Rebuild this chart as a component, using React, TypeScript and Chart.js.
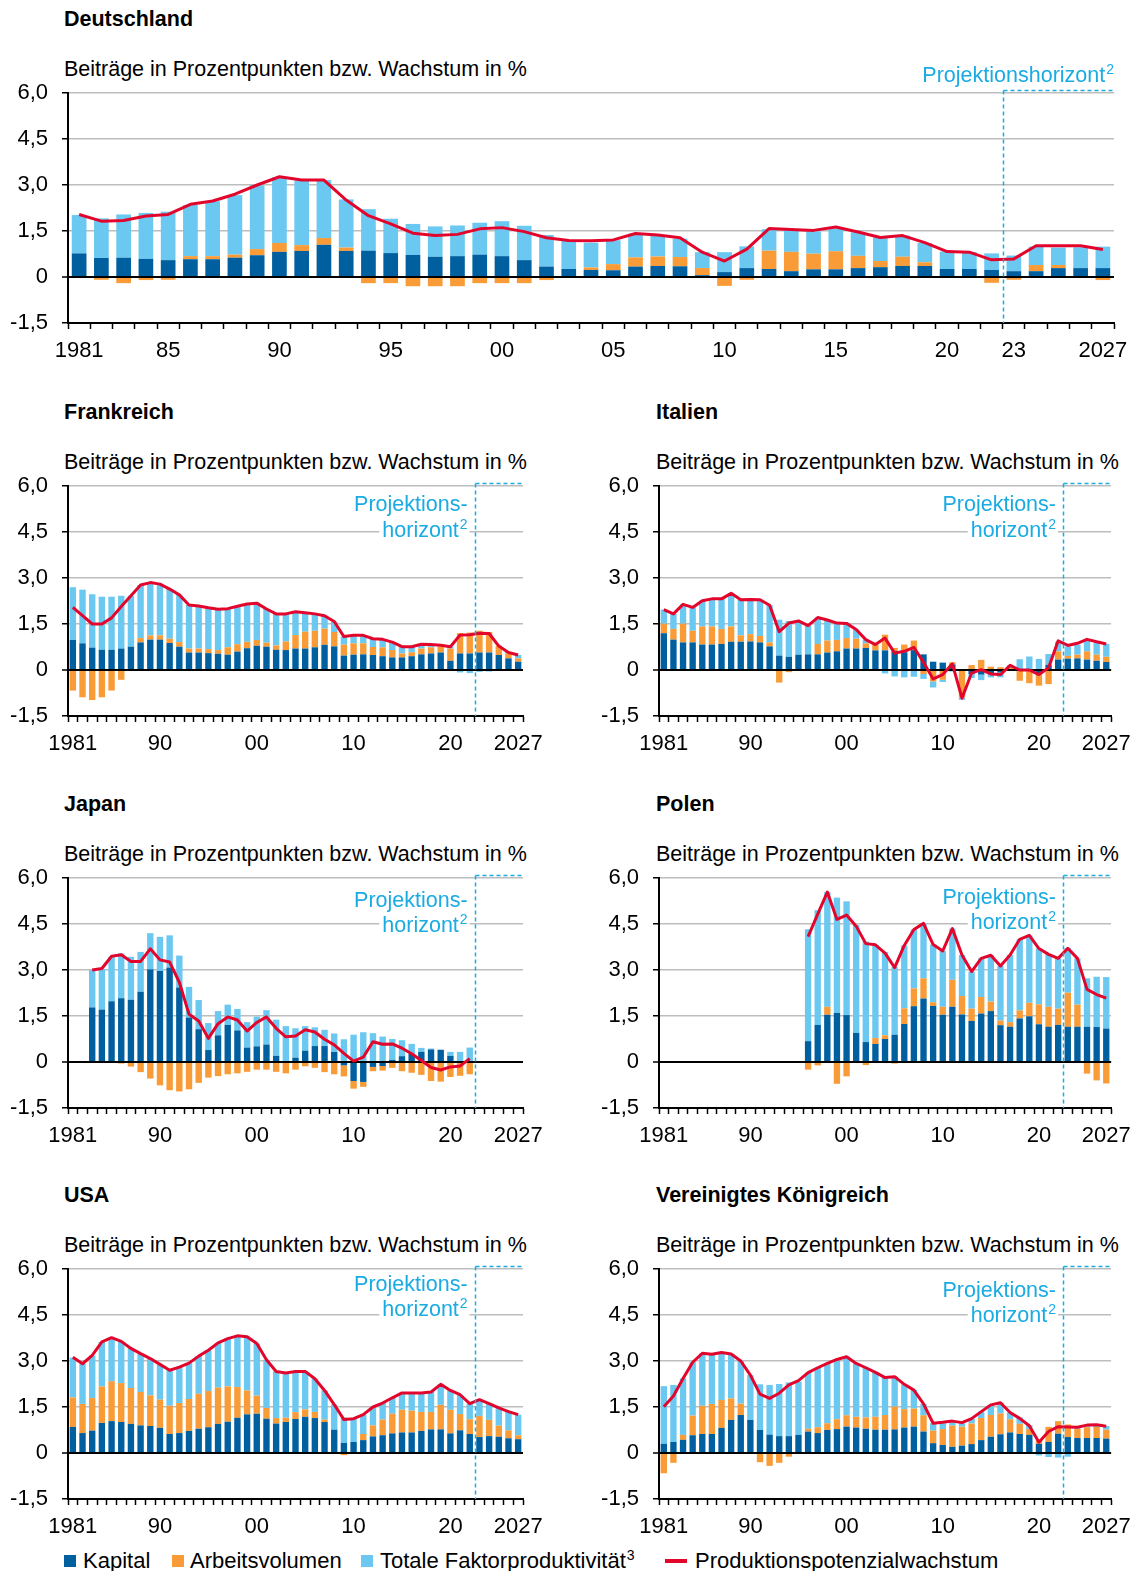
import React, { useEffect, useRef } from 'react';
import { Chart, registerables } from 'chart.js';

Chart.register(...registerables);

const FONT = "'Liberation Sans', Arial, Helvetica, sans-serif";
const FS = 21.5;
const SUP_FS = 14;
const LEGEND_FS = 22;
const TICK_FS = 22;

const YEARS = [
  1981, 1982, 1983, 1984, 1985, 1986, 1987, 1988, 1989, 1990,
  1991, 1992, 1993, 1994, 1995, 1996, 1997, 1998, 1999, 2000,
  2001, 2002, 2003, 2004, 2005, 2006, 2007, 2008, 2009, 2010,
  2011, 2012, 2013, 2014, 2015, 2016, 2017, 2018, 2019, 2020,
  2021, 2022, 2023, 2024, 2025, 2026, 2027,
];
const PROJECTION_START = 2023;

const Y_TICK_VALUES = [-1.5, 0, 1.5, 3, 4.5, 6];
const Y_TICK_LABELS = ['-1,5', '0', '1,5', '3,0', '4,5', '6,0'];

const DE_TICK_YEARS = [1981, 1985, 1990, 1995, 2000, 2005, 2010, 2015, 2020, 2023, 2027];
const DE_TICK_LABELS = ['1981', '85', '90', '95', '00', '05', '10', '15', '20', '23', '2027'];
const SMALL_TICK_YEARS = [1981, 1990, 2000, 2010, 2020, 2027];
const SMALL_TICK_LABELS = ['1981', '90', '00', '10', '20', '2027'];

const SERIES_NAMES = ['Kapital', 'Arbeitsvolumen', 'Totale Faktorproduktivität', 'Produktionspotenzialwachstum'];
const SERIES_SUPS = ['', '', '3', ''];
const SUBTITLE = 'Beiträge in Prozentpunkten bzw. Wachstum in %';

const COLOR_KAPITAL = '#005f9f';
const COLOR_ARBEIT = '#f99b36';
const COLOR_TFP = '#6ac8f1';
const COLOR_POT = '#e3062c';
const COLOR_PROJ = '#1aabe3';
const COLOR_GRID = '#bdbdbd';

type V = number | null;

// ---------- Deutschland ----------
const DE_KAPITAL: V[] = [
  0.77, 0.62, 0.63, 0.59, 0.55, 0.58, 0.58, 0.63, 0.71, 0.82,
  0.85, 1.05, 0.85, 0.86, 0.78, 0.72, 0.66, 0.68, 0.73, 0.68,
  0.55, 0.34, 0.26, 0.23, 0.22, 0.34, 0.36, 0.35, 0.06, 0.16,
  0.29, 0.26, 0.19, 0.25, 0.25, 0.29, 0.32, 0.36, 0.36, 0.26,
  0.26, 0.23, 0.19, 0.19, 0.29, 0.29, 0.29,
];
const DE_ARBEIT: V[] = [
  0, -0.09, -0.2, -0.1, -0.09, 0.1, 0.1, 0.1, 0.2, 0.29,
  0.19, 0.22, 0.11, -0.2, -0.2, -0.3, -0.3, -0.3, -0.2, -0.2,
  -0.2, -0.1, 0, 0.08, 0.2, 0.3, 0.31, 0.3, 0.23, -0.29,
  -0.09, 0.6, 0.63, 0.51, 0.59, 0.4, 0.2, 0.3, 0.12, 0,
  0, -0.19, -0.09, 0.2, 0.1, 0, -0.1,
];
const DE_TFP: V[] = [
  1.25, 1.29, 1.41, 1.5, 1.58, 1.67, 1.79, 1.94, 2.08, 2.14,
  2.11, 1.89, 1.57, 1.35, 1.12, 1.01, 0.99, 1.0, 1.04, 1.14,
  1.12, 1.03, 0.93, 0.81, 0.78, 0.77, 0.68, 0.6, 0.52, 0.65,
  0.71, 0.7, 0.72, 0.73, 0.74, 0.77, 0.77, 0.69, 0.63, 0.57,
  0.55, 0.54, 0.51, 0.6, 0.57, 0.68, 0.7,
];
const DE_POTENZIAL: V[] = [
  2.04, 1.82, 1.84, 1.99, 2.04, 2.37, 2.48, 2.7, 3.0, 3.27,
  3.16, 3.16, 2.51, 2.0, 1.73, 1.43, 1.35, 1.39, 1.57, 1.61,
  1.48, 1.28, 1.19, 1.18, 1.21, 1.42, 1.37, 1.28, 0.81, 0.52,
  0.91, 1.58, 1.55, 1.52, 1.63, 1.47, 1.29, 1.35, 1.12, 0.83,
  0.81, 0.56, 0.59, 1.02, 1.02, 1.02, 0.9,
];

// ---------- Frankreich ----------
const FR_KAPITAL: V[] = [
  0.98, 0.87, 0.73, 0.66, 0.66, 0.7, 0.76, 0.9, 0.99, 0.99,
  0.88, 0.76, 0.57, 0.57, 0.55, 0.53, 0.5, 0.6, 0.71, 0.79,
  0.76, 0.66, 0.65, 0.7, 0.7, 0.74, 0.82, 0.77, 0.47, 0.5,
  0.51, 0.49, 0.45, 0.41, 0.41, 0.45, 0.51, 0.54, 0.57, 0.3,
  0.54, 0.54, 0.57, 0.57, 0.49, 0.38, 0.27,
];
const FR_ARBEIT: V[] = [
  -0.67, -0.89, -0.98, -0.89, -0.67, -0.32, 0, 0.14, 0.14, 0.14,
  0.14, 0.15, 0.13, 0.13, 0.13, 0.12, 0.24, 0.24, 0.21, 0.19,
  0.13, 0.14, 0.28, 0.44, 0.55, 0.54, 0.53, 0.47, 0.36, 0.37,
  0.36, 0.26, 0.29, 0.24, 0.13, 0.13, 0.19, 0.2, 0.2, 0.4,
  0.66, 0.68, 0.71, 0.67, 0.3, 0.16, 0.11,
];
const FR_TFP: V[] = [
  1.72, 1.75, 1.74, 1.73, 1.73, 1.72, 1.66, 1.73, 1.72, 1.67,
  1.62, 1.54, 1.42, 1.39, 1.35, 1.33, 1.26, 1.24, 1.23, 1.2,
  1.1, 1.03, 0.9, 0.76, 0.62, 0.55, 0.42, 0.34, 0.26, 0.26,
  0.26, 0.27, 0.26, 0.26, 0.22, 0.18, 0.1, 0.07, 0.06, 0.06,
  -0.08, -0.1, -0.06, -0.05, -0.02, 0.05, 0.11,
];
const FR_POTENZIAL: V[] = [
  2.04, 1.77, 1.5, 1.5, 1.7, 2.07, 2.42, 2.77, 2.85, 2.8,
  2.64, 2.45, 2.12, 2.09, 2.03, 1.98, 2.0, 2.08, 2.15, 2.18,
  1.99, 1.83, 1.83, 1.9, 1.87, 1.83, 1.77, 1.58, 1.09, 1.13,
  1.13, 1.02, 1.0, 0.91, 0.76, 0.76, 0.84, 0.83, 0.81, 0.76,
  1.14, 1.15, 1.2, 1.19, 0.78, 0.57, 0.49,
];

// ---------- Italien ----------
const IT_KAPITAL: V[] = [
  1.2, 0.99, 0.9, 0.9, 0.83, 0.83, 0.85, 0.92, 0.92, 0.93,
  0.9, 0.77, 0.47, 0.43, 0.5, 0.51, 0.51, 0.57, 0.61, 0.7,
  0.7, 0.72, 0.64, 0.64, 0.62, 0.58, 0.65, 0.51, 0.27, 0.24,
  0.18, 0.03, -0.13, -0.15, -0.1, -0.08, 0.02, 0.01, 0.01, -0.1,
  0.17, 0.34, 0.37, 0.38, 0.34, 0.3, 0.26,
];
const IT_ARBEIT: V[] = [
  0.31, 0.35, 0.61, 0.38, 0.59, 0.59, 0.49, 0.5, 0.21, 0.24,
  0.21, 0.13, -0.41, -0.07, 0, 0, 0.34, 0.39, 0.37, 0.34,
  0.32, 0.15, 0.19, 0.51, 0.1, 0.25, 0.31, -0.13, -0.37, -0.32,
  0.07, -0.9, 0.16, 0.33, 0.11, 0.09, 0.05, -0.35, -0.43, -0.41,
  -0.46, 0.27, 0.09, 0.12, 0.27, 0.2, 0.17,
];
const IT_TFP: V[] = [
  0.46, 0.49, 0.63, 0.76, 0.84, 0.9, 0.98, 1.08, 1.16, 1.13,
  1.18, 1.21, 1.17, 1.17, 1.1, 0.94, 0.86, 0.67, 0.55, 0.48,
  0.3, 0.12, 0, -0.11, -0.21, -0.24, -0.22, -0.16, -0.2, -0.07,
  -0.05, -0.07, -0.13, -0.18, -0.14, -0.16, 0.08, 0.34, 0.43, 0.36,
  0.35, 0.31, 0.3, 0.33, 0.4, 0.39, 0.42,
];
const IT_POTENZIAL: V[] = [
  1.97, 1.83, 2.14, 2.04, 2.26, 2.32, 2.32, 2.5, 2.29, 2.3,
  2.29, 2.11, 1.25, 1.53, 1.6, 1.45, 1.71, 1.63, 1.53, 1.52,
  1.32, 0.99, 0.83, 1.04, 0.55, 0.61, 0.74, 0.25, -0.29, -0.15,
  0.2, -0.92, -0.1, 0.01, -0.13, -0.15, 0.15, 0.0, 0.0, -0.15,
  0.07, 0.95, 0.8, 0.87, 1.0, 0.92, 0.85,
];

// ---------- Japan ----------
const JP_KAPITAL: V[] = [
  null, null, 1.78, 1.71, 1.98, 2.08, 2.03, 2.29, 3.02, 2.97,
  3.08, 2.43, 1.45, 1.07, 0.39, 0.87, 1.21, 1.03, 0.47, 0.51,
  0.57, 0.2, 0.02, 0.14, 0.37, 0.52, 0.52, 0.33, -0.11, -0.62,
  -0.65, -0.16, -0.13, 0.07, 0.19, 0.27, 0.33, 0.41, 0.4, 0.2,
  0, 0, null, null, null, null, null,
];
const JP_ARBEIT: V[] = [
  null, null, 0, 0, 0, -0.05, -0.15, -0.33, -0.54, -0.76,
  -0.92, -0.96, -0.89, -0.68, -0.51, -0.46, -0.4, -0.37, -0.32, -0.25,
  -0.25, -0.32, -0.37, -0.25, -0.14, -0.19, -0.33, -0.4, -0.36, -0.25,
  -0.16, -0.14, -0.15, -0.19, -0.3, -0.35, -0.42, -0.62, -0.64, -0.49,
  -0.45, -0.4, null, null, null, null, null,
];
const JP_TFP: V[] = [
  null, null, 1.22, 1.32, 1.45, 1.46, 1.4, 1.3, 1.18, 1.11,
  1.05, 1.04, 1.0, 0.95, 0.88, 0.79, 0.66, 0.7, 0.83, 0.97,
  1.12, 1.18, 1.15, 0.96, 0.8, 0.61, 0.53, 0.6, 0.74, 0.89,
  0.97, 0.94, 0.83, 0.68, 0.52, 0.32, 0.13, 0.03, 0, 0.13,
  0.33, 0.47, null, null, null, null, null,
];
const JP_POTENZIAL: V[] = [
  null, null, 3.0, 3.05, 3.45, 3.5, 3.28, 3.28, 3.69, 3.33,
  3.26, 2.6, 1.56, 1.34, 0.77, 1.25, 1.47, 1.37, 1.01, 1.29,
  1.47, 1.1, 0.82, 0.85, 1.05, 0.98, 0.74, 0.56, 0.28, 0.03,
  0.16, 0.66, 0.58, 0.59, 0.45, 0.27, 0.05, -0.18, -0.26, -0.16,
  -0.13, 0.11, null, null, null, null, null,
];

// ---------- Polen ----------
const PL_KAPITAL: V[] = [
  null, null, null, null, null, null, null, null, null, null,
  null, null, null, null, null, 0.68, 1.21, 1.54, 1.6, 1.53,
  0.95, 0.65, 0.59, 0.75, 0.89, 1.24, 1.82, 2.07, 1.83, 1.54,
  1.8, 1.55, 1.34, 1.58, 1.66, 1.2, 1.15, 1.42, 1.49, 1.23,
  1.15, 1.21, 1.15, 1.15, 1.15, 1.14, 1.09,
];
const PL_ARBEIT: V[] = [
  null, null, null, null, null, null, null, null, null, null,
  null, null, null, null, null, -0.25, -0.11, 0.26, -0.71, -0.47,
  0, -0.1, 0.19, 0.12, -0.05, 0.51, 0.58, 0.66, 0.12, 0.26,
  0.88, 0.6, 0.4, 0.54, 0.31, 0.15, 0.15, 0.26, 0.44, 0.65,
  0.65, 0.53, 1.11, 0.72, -0.38, -0.6, -0.7,
];
const PL_TFP: V[] = [
  null, null, null, null, null, null, null, null, null, null,
  null, null, null, null, null, 3.65, 3.74, 3.74, 3.76, 3.71,
  3.52, 3.28, 3.04, 2.72, 2.21, 2.05, 1.92, 1.79, 1.88, 1.82,
  1.67, 1.34, 1.21, 1.26, 1.51, 1.78, 2.19, 2.32, 2.2, 1.82,
  1.71, 1.64, 1.45, 1.51, 1.58, 1.64, 1.68,
];
const PL_POTENZIAL: V[] = [
  null, null, null, null, null, null, null, null, null, null,
  null, null, null, null, null, 4.09, 4.82, 5.54, 4.65, 4.79,
  4.43, 3.86, 3.82, 3.55, 3.08, 3.8, 4.32, 4.52, 3.83, 3.62,
  4.35, 3.49, 2.95, 3.38, 3.48, 3.13, 3.49, 4.0, 4.13, 3.7,
  3.51, 3.38, 3.71, 3.38, 2.37, 2.2, 2.08,
];

// ---------- USA ----------
const US_KAPITAL: V[] = [
  0.85, 0.65, 0.73, 0.98, 1.04, 1.01, 0.95, 0.9, 0.88, 0.82,
  0.62, 0.65, 0.72, 0.79, 0.84, 0.95, 1.02, 1.15, 1.26, 1.28,
  1.12, 0.96, 1.01, 1.11, 1.18, 1.14, 1.01, 0.76, 0.33, 0.36,
  0.42, 0.54, 0.58, 0.64, 0.67, 0.67, 0.72, 0.77, 0.77, 0.64,
  0.74, 0.62, 0.52, 0.55, 0.53, 0.48, 0.45,
];
const US_ARBEIT: V[] = [
  0.96, 0.95, 1.06, 1.19, 1.3, 1.27, 1.17, 1.09, 1.0, 0.92,
  0.92, 0.98, 1.04, 1.14, 1.18, 1.18, 1.15, 1.0, 0.78, 0.59,
  0.35, 0.18, 0.14, 0.22, 0.24, 0.2, 0.08, 0, -0.07, 0,
  0.2, 0.36, 0.51, 0.64, 0.74, 0.71, 0.62, 0.57, 0.8, 0.77,
  0.53, 0.48, 0.69, 0.53, 0.36, 0.26, 0.13,
];
const US_TFP: V[] = [
  1.3, 1.31, 1.39, 1.45, 1.42, 1.36, 1.29, 1.25, 1.2, 1.15,
  1.16, 1.17, 1.17, 1.23, 1.33, 1.46, 1.56, 1.67, 1.75, 1.7,
  1.57, 1.52, 1.46, 1.33, 1.24, 1.08, 0.95, 0.82, 0.83, 0.76,
  0.63, 0.6, 0.54, 0.52, 0.55, 0.58, 0.62, 0.65, 0.67, 0.63,
  0.63, 0.51, 0.53, 0.53, 0.58, 0.61, 0.67,
];
const US_POTENZIAL: V[] = [
  3.12, 2.91, 3.18, 3.62, 3.76, 3.64, 3.41, 3.24, 3.08, 2.89,
  2.7, 2.8, 2.93, 3.16, 3.35, 3.59, 3.73, 3.82, 3.79, 3.57,
  3.04, 2.66, 2.61, 2.66, 2.66, 2.42, 2.04, 1.58, 1.09, 1.12,
  1.25, 1.5, 1.63, 1.8, 1.96, 1.96, 1.96, 1.99, 2.24, 2.04,
  1.9, 1.61, 1.74, 1.61, 1.47, 1.35, 1.25,
];

// ---------- Vereinigtes Königreich ----------
const UK_KAPITAL: V[] = [
  0.3, 0.36, 0.43, 0.58, 0.62, 0.62, 0.82, 1.08, 1.24, 1.08,
  0.75, 0.6, 0.55, 0.55, 0.59, 0.7, 0.65, 0.75, 0.78, 0.86,
  0.83, 0.79, 0.76, 0.76, 0.77, 0.83, 0.86, 0.7, 0.32, 0.26,
  0.2, 0.24, 0.29, 0.42, 0.53, 0.61, 0.67, 0.62, 0.59, 0.3,
  0.36, 0.63, 0.52, 0.49, 0.49, 0.49, 0.47,
];
const UK_ARBEIT: V[] = [
  -0.66, -0.32, 0.16, 0.64, 0.92, 0.98, 0.91, 0.7, 0.37, 0,
  -0.3, -0.42, -0.32, -0.12, 0, 0.09, 0.19, 0.22, 0.32, 0.37,
  0.35, 0.37, 0.42, 0.48, 0.74, 0.6, 0.59, 0.53, 0.41, 0.52,
  0.69, 0.62, 0.67, 0.72, 0.71, 0.68, 0.43, 0.33, 0.19, 0.1,
  0.49, 0.41, 0.41, 0.29, 0.35, 0.36, 0.29,
];
const UK_TFP: V[] = [
  1.88, 1.86, 1.84, 1.74, 1.71, 1.62, 1.55, 1.45, 1.39, 1.46,
  1.49, 1.62, 1.7, 1.75, 1.74, 1.83, 1.94, 1.95, 1.95, 1.91,
  1.74, 1.62, 1.45, 1.22, 0.98, 0.81, 0.6, 0.37, 0.24, 0.19,
  0.11, 0.11, 0.16, 0.21, 0.33, 0.35, 0.22, 0.21, 0.13, -0.08,
  -0.13, -0.15, -0.12, 0.1, 0.07, 0.08, 0.12,
];
const UK_POTENZIAL: V[] = [
  1.51, 1.86, 2.43, 2.96, 3.25, 3.22, 3.28, 3.23, 3.0, 2.54,
  1.92, 1.78, 1.95, 2.22, 2.36, 2.62, 2.78, 2.92, 3.05, 3.14,
  2.92, 2.78, 2.63, 2.46, 2.49, 2.24, 2.05, 1.6, 0.97, 1.0,
  1.04, 0.99, 1.12, 1.35, 1.57, 1.64, 1.32, 1.13, 0.89, 0.35,
  0.7, 0.86, 0.85, 0.84, 0.91, 0.92, 0.87,
];

type Panel = {
  key: string;
  title: string;
  kap: V[];
  arb: V[];
  tfp: V[];
  pot: V[];
  tickYears: number[];
  tickLabels: string[];
  left: number;
  width: number;
  axisW: number;
  padRight: number;
  chartTop: number;
  textX: number;
  wide: boolean;
  projLines: string[];
  projSups: string[];
  projOffsets: number[];
};

const LEFT_COL = { left: 0, width: 570, axisW: 68, padRight: 47, textX: 64 };
const RIGHT_COL = { left: 591, width: 549, axisW: 68, padRight: 25, textX: 656 };
const PROJ_LINES = ['Projektions-', 'horizont'];
const PROJ_SUPS = ['', '2'];

const PANELS: Panel[] = [
  { key: 'de', title: 'Deutschland', kap: DE_KAPITAL, arb: DE_ARBEIT, tfp: DE_TFP, pot: DE_POTENZIAL,
    tickYears: DE_TICK_YEARS, tickLabels: DE_TICK_LABELS, left: 0, width: 1140, axisW: 68, padRight: 26,
    chartTop: 93, textX: 64, wide: true, projLines: ['Projektionshorizont'], projSups: ['2'], projOffsets: [-17] },
  { key: 'fr', title: 'Frankreich', kap: FR_KAPITAL, arb: FR_ARBEIT, tfp: FR_TFP, pot: FR_POTENZIAL,
    tickYears: SMALL_TICK_YEARS, tickLabels: SMALL_TICK_LABELS, ...LEFT_COL,
    chartTop: 486, wide: false, projLines: PROJ_LINES, projSups: PROJ_SUPS, projOffsets: [19, 45] },
  { key: 'it', title: 'Italien', kap: IT_KAPITAL, arb: IT_ARBEIT, tfp: IT_TFP, pot: IT_POTENZIAL,
    tickYears: SMALL_TICK_YEARS, tickLabels: SMALL_TICK_LABELS, ...RIGHT_COL,
    chartTop: 486, wide: false, projLines: PROJ_LINES, projSups: PROJ_SUPS, projOffsets: [19, 45] },
  { key: 'jp', title: 'Japan', kap: JP_KAPITAL, arb: JP_ARBEIT, tfp: JP_TFP, pot: JP_POTENZIAL,
    tickYears: SMALL_TICK_YEARS, tickLabels: SMALL_TICK_LABELS, ...LEFT_COL,
    chartTop: 878, wide: false, projLines: PROJ_LINES, projSups: PROJ_SUPS, projOffsets: [23, 48] },
  { key: 'pl', title: 'Polen', kap: PL_KAPITAL, arb: PL_ARBEIT, tfp: PL_TFP, pot: PL_POTENZIAL,
    tickYears: SMALL_TICK_YEARS, tickLabels: SMALL_TICK_LABELS, ...RIGHT_COL,
    chartTop: 878, wide: false, projLines: PROJ_LINES, projSups: PROJ_SUPS, projOffsets: [20, 45] },
  { key: 'us', title: 'USA', kap: US_KAPITAL, arb: US_ARBEIT, tfp: US_TFP, pot: US_POTENZIAL,
    tickYears: SMALL_TICK_YEARS, tickLabels: SMALL_TICK_LABELS, ...LEFT_COL,
    chartTop: 1269, wide: false, projLines: PROJ_LINES, projSups: PROJ_SUPS, projOffsets: [16, 41] },
  { key: 'uk', title: 'Vereinigtes Königreich', kap: UK_KAPITAL, arb: UK_ARBEIT, tfp: UK_TFP, pot: UK_POTENZIAL,
    tickYears: SMALL_TICK_YEARS, tickLabels: SMALL_TICK_LABELS, ...RIGHT_COL,
    chartTop: 1269, wide: false, projLines: PROJ_LINES, projSups: PROJ_SUPS, projOffsets: [22, 47] },
];

const TOP_PAD = 45;
const PLOT_H = 230;
const XAXIS_H = 47;

// draws text right-aligned at xr, with optional superscript; returns total width
function drawWithSup(ctx: CanvasRenderingContext2D, text: string, sup: string, xr: number, y: number, measureOnly = false) {
  ctx.font = `${FS}px ${FONT}`;
  const w = ctx.measureText(text).width;
  ctx.font = `${SUP_FS}px ${FONT}`;
  const sw = sup ? ctx.measureText(sup).width + 1 : 0;
  if (!measureOnly) {
    ctx.textAlign = 'right';
    ctx.textBaseline = 'middle';
    ctx.font = `${FS}px ${FONT}`;
    ctx.fillText(text, xr - sw, y);
    if (sup) {
      ctx.font = `${SUP_FS}px ${FONT}`;
      ctx.fillText(sup, xr, y - 6);
    }
  }
  return w + sw;
}

function PanelChart({ p }: { p: Panel }) {
  const ref = useRef<HTMLCanvasElement | null>(null);

  useEffect(() => {
    const canvas = ref.current;
    if (!canvas) return;
    const labelMap = new Map<number, string>();
    p.tickYears.forEach((y, i) => labelMap.set(y, p.tickLabels[i]));

    const boundaryX = (xs: any) => {
      const i = YEARS.indexOf(PROJECTION_START);
      return (xs.getPixelForValue(i) + xs.getPixelForValue(i - 1)) / 2;
    };

    const projPlugin = {
      id: 'projection' + p.key,
      beforeDatasetsDraw(chart: any) {
        if (p.wide) return;
        const { ctx, chartArea, scales } = chart;
        const bx = boundaryX(scales.x);
        ctx.save();
        p.projLines.forEach((t, i) => {
          const y = chartArea.top + p.projOffsets[i];
          const xr = bx - 7;
          const w = drawWithSup(ctx, t, p.projSups[i], xr, y, true);
          ctx.fillStyle = '#ffffff';
          ctx.fillRect(xr - w - 3, y - 11, w + 5, 22);
          ctx.fillStyle = COLOR_PROJ;
          drawWithSup(ctx, t, p.projSups[i], xr, y);
        });
        ctx.restore();
      },
      beforeDatasetDraw(chart: any, args: any) {
        if (!args.meta || args.meta.type !== 'line') return;
        const { ctx, chartArea, scales } = chart;
        const y0 = Math.round(scales.y.getPixelForValue(0));
        ctx.save();
        ctx.strokeStyle = '#000000';
        ctx.lineWidth = 2;
        ctx.beginPath();
        ctx.moveTo(chartArea.left, y0);
        ctx.lineTo(chartArea.right, y0);
        ctx.stroke();
        ctx.restore();
      },
      afterDatasetsDraw(chart: any) {
        const { ctx, chartArea, scales } = chart;
        const bx = Math.round(boundaryX(scales.x)) + 0.5;
        const topY = chartArea.top - 2.5;
        ctx.save();
        ctx.strokeStyle = COLOR_PROJ;
        ctx.lineWidth = 1.5;
        ctx.setLineDash([4, 3]);
        ctx.beginPath();
        ctx.moveTo(bx, topY);
        ctx.lineTo(bx, chartArea.bottom);
        ctx.stroke();
        ctx.beginPath();
        ctx.moveTo(bx, topY);
        ctx.lineTo(chartArea.right, topY);
        ctx.stroke();
        ctx.setLineDash([]);
        if (p.wide) {
          ctx.fillStyle = COLOR_PROJ;
          drawWithSup(ctx, p.projLines[0], p.projSups[0], chartArea.right, chartArea.top + p.projOffsets[0]);
        }
        ctx.restore();
      },
    };

    const barCommon = {
      type: 'bar' as const,
      order: 1,
      stack: 'beitraege',
      barPercentage: 0.66,
      categoryPercentage: 1,
      borderWidth: 0,
    };

    const chart = new Chart(canvas, {
      type: 'bar',
      data: {
        labels: YEARS.map(String),
        datasets: [
          {
            type: 'line',
            label: SERIES_NAMES[3],
            data: p.pot,
            borderColor: COLOR_POT,
            backgroundColor: COLOR_POT,
            borderWidth: 3,
            pointRadius: 0,
            tension: 0,
            order: 0,
            stack: 'potenzial',
            spanGaps: false,
            borderJoinStyle: 'round',
          } as any,
          { ...barCommon, label: SERIES_NAMES[0], data: p.kap, backgroundColor: COLOR_KAPITAL } as any,
          { ...barCommon, label: SERIES_NAMES[1], data: p.arb, backgroundColor: COLOR_ARBEIT } as any,
          { ...barCommon, label: SERIES_NAMES[2], data: p.tfp, backgroundColor: COLOR_TFP } as any,
        ],
      },
      options: {
        animation: false,
        responsive: false,
        devicePixelRatio: 1,
        events: [],
        layout: { padding: { top: TOP_PAD, right: p.padRight, left: 0, bottom: 0 } },
        plugins: { legend: { display: false }, tooltip: { enabled: false }, title: { display: false } },
        scales: {
          x: {
            type: 'category',
            stacked: true,
            offset: true,
            grid: {
              display: true,
              drawOnChartArea: false,
              drawTicks: true,
              tickLength: 6,
              tickColor: '#000000',
              tickWidth: 1.5,
              offset: true,
            },
            border: { display: true, color: '#000000', width: 2 },
            ticks: {
              autoSkip: false,
              maxRotation: 0,
              minRotation: 0,
              padding: 9,
              color: '#000000',
              font: { family: FONT, size: TICK_FS },
              callback: (_v: any, i: number) => labelMap.get(YEARS[i]) ?? '',
            },
            afterFit: (scale: any) => { scale.height = XAXIS_H; },
          },
          y: {
            type: 'linear',
            stacked: true,
            min: -1.5,
            max: 6,
            afterBuildTicks: (scale: any) => {
              scale.ticks = Y_TICK_VALUES.map((v) => ({ value: v }));
            },
            grid: {
              color: (c: any) => (c.tick && Math.abs(c.tick.value) < 1e-6 ? '#000000' : COLOR_GRID),
              lineWidth: (c: any) => (c.tick && Math.abs(c.tick.value) < 1e-6 ? 2 : 1.5),
              tickColor: '#000000',
              tickWidth: 1.5,
              tickLength: 6,
              drawTicks: true,
            },
            border: { display: true, color: '#000000', width: 2 },
            ticks: {
              padding: 14,
              color: '#000000',
              font: { family: FONT, size: TICK_FS },
              callback: (v: any) => {
                const idx = Y_TICK_VALUES.findIndex((t) => Math.abs(t - Number(v)) < 1e-6);
                return idx >= 0 ? Y_TICK_LABELS[idx] : '';
              },
            },
            afterFit: (scale: any) => { scale.width = p.axisW; },
          },
        },
      } as any,
      plugins: [projPlugin as any],
    });
    return () => chart.destroy();
  }, [p]);

  const h = TOP_PAD + PLOT_H + XAXIS_H;
  return (
    <canvas
      ref={ref}
      width={p.width}
      height={h}
      style={{ position: 'absolute', left: p.left, top: p.chartTop - TOP_PAD, width: p.width, height: h }}
    />
  );
}

function PanelBlock({ p }: { p: Panel }) {
  return (
    <>
      <div style={{ position: 'absolute', left: p.textX, top: p.chartTop - 74 - 13, lineHeight: '26px',
        fontSize: FS, fontWeight: 700, whiteSpace: 'nowrap' }}>{p.title}</div>
      <div style={{ position: 'absolute', left: p.textX, top: p.chartTop - 24 - 13, lineHeight: '26px',
        fontSize: FS, whiteSpace: 'nowrap' }}>{SUBTITLE}</div>
      <PanelChart p={p} />
    </>
  );
}

function Legend() {
  const cy = 1561;
  const items = [
    { color: COLOR_KAPITAL, x: 64, tx: 83, line: false },
    { color: COLOR_ARBEIT, x: 172, tx: 190, line: false },
    { color: COLOR_TFP, x: 361, tx: 380, line: false },
    { color: COLOR_POT, x: 665, tx: 695, line: true },
  ];
  return (
    <>
      {items.map((it, i) => (
        <React.Fragment key={i}>
          {it.line ? (
            <div style={{ position: 'absolute', left: it.x, top: cy - 2, width: 22, height: 4, background: it.color }} />
          ) : (
            <div style={{ position: 'absolute', left: it.x, top: cy - 6, width: 12, height: 12, background: it.color }} />
          )}
          <div style={{ position: 'absolute', left: it.tx, top: cy - 13, lineHeight: '26px', fontSize: LEGEND_FS, whiteSpace: 'nowrap' }}>
            {SERIES_NAMES[i]}
            {SERIES_SUPS[i] ? (
              <span style={{ fontSize: SUP_FS, position: 'relative', top: -8, marginLeft: 1 }}>{SERIES_SUPS[i]}</span>
            ) : null}
          </div>
        </React.Fragment>
      ))}
    </>
  );
}

export default function App() {
  return (
    <div style={{ position: 'absolute', left: 0, top: 0, width: 1140, height: 1571, background: '#ffffff',
      fontFamily: FONT, color: '#000000', overflow: 'hidden' }}>
      {PANELS.map((p) => <PanelBlock key={p.key} p={p} />)}
      <Legend />
    </div>
  );
}
